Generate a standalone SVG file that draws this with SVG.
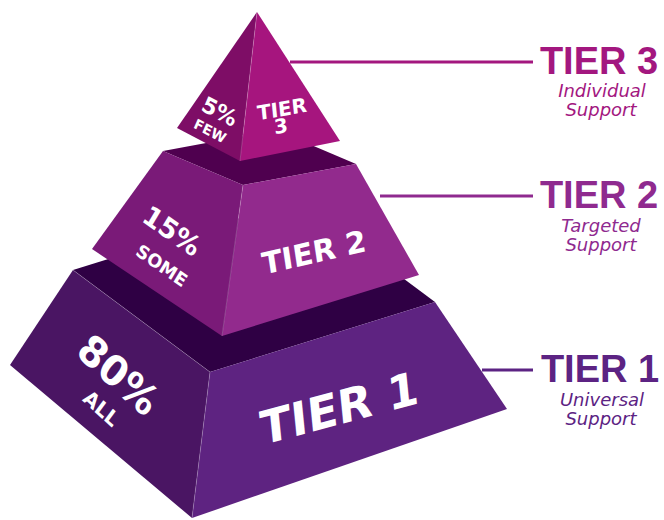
<svg xmlns="http://www.w3.org/2000/svg" width="664" height="520" viewBox="0 0 664 520">
<style>
.ft{font-family:"DejaVu Sans","Liberation Sans",sans-serif;font-weight:bold;fill:#ffffff;text-anchor:middle}
.ttl{font-family:"Liberation Sans",Arial,sans-serif;font-weight:bold;font-size:38px;text-anchor:middle}
.sub{font-family:"DejaVu Sans","Liberation Sans",sans-serif;font-style:italic;font-size:18px;text-anchor:middle}
.ridge{stroke:#ffffff;stroke-opacity:0.25;stroke-width:0.8;fill:none}
.conn{stroke-width:3;fill:none}
</style>
<rect width="664" height="520" fill="#ffffff"/>
<g id="tier1-block">
  <polygon points="73,270 298,200 435,302 210,372" fill="#2f0044"/>
  <polygon points="73,270 210,372 192,518 10,365" fill="#4a1563"/>
  <polygon points="210,372 435,302 507,409 192,518" fill="#5e2381"/>
  <line class="ridge" x1="210" y1="372" x2="192" y2="518"/>
  <line class="ridge" x1="73" y1="270" x2="210" y2="372"/>
  <text class="ft" font-size="40" transform="matrix(0.743 0.669 -0.6 0.8 110 386)">80%</text>
  <text class="ft" font-size="20" transform="matrix(0.743 0.669 -0.6 0.8 97 414)">ALL</text>
  <text class="ft" font-size="46" transform="matrix(0.966 -0.259 0.1 0.995 341 424)">TIER 1</text>
</g>
<g id="tier2-block">
  <polygon points="163,151 276,130 356,164 243,185" fill="#4f004f"/>
  <polygon points="163,151 243,185 222,336 92,249" fill="#7a1a78"/>
  <polygon points="243,185 356,164 419,275 222,336" fill="#922a8d"/>
  <line class="ridge" x1="243" y1="185" x2="222" y2="336"/>
  <text class="ft" font-size="27" transform="matrix(0.819 0.574 -0.52 0.854 167 239)">15%</text>
  <text class="ft" font-size="18" transform="matrix(0.819 0.574 -0.52 0.854 158.5 271)">SOME</text>
  <text class="ft" font-size="30" transform="matrix(0.974 -0.225 0.15 0.989 315.5 262.7)">TIER 2</text>
</g>
<g id="tier3-block">
  <polygon points="257,12 177,128 240,161" fill="#7e0d66"/>
  <polygon points="257,12 240,161 340,141" fill="#a6157e"/>
  <line class="ridge" x1="257" y1="12" x2="240" y2="161"/>
  <text class="ft" font-size="22" transform="matrix(0.887 0.462 -0.4 0.917 216.6 118.5)">5%</text>
  <text class="ft" font-size="14" transform="matrix(0.887 0.462 -0.4 0.917 208 135.6)">FEW</text>
  <text class="ft" font-size="20" transform="matrix(0.985 -0.174 0.1 0.995 282.7 116)">TIER</text>
  <text class="ft" font-size="20" transform="matrix(0.985 -0.174 0.1 0.995 281.7 133)">3</text>
</g>
<g id="connectors">
  <line class="conn" x1="290" y1="62" x2="533" y2="62" stroke="#a3177f"/>
  <line class="conn" x1="380" y1="196" x2="533" y2="196" stroke="#8f2a8f"/>
  <line class="conn" x1="482" y1="370" x2="533" y2="370" stroke="#5c2383"/>
</g>
<g id="label-tier3" fill="#a3177f">
  <text class="ttl" x="599" y="74">TIER 3</text>
  <text class="sub" x="602" y="97">Individual</text>
  <text class="sub" x="601" y="116">Support</text>
</g>
<g id="label-tier2" fill="#8f2a8f">
  <text class="ttl" x="599" y="208">TIER 2</text>
  <text class="sub" x="601" y="232">Targeted</text>
  <text class="sub" x="601" y="251">Support</text>
</g>
<g id="label-tier1" fill="#5c2383">
  <text class="ttl" x="600" y="382">TIER 1</text>
  <text class="sub" x="602" y="406">Universal</text>
  <text class="sub" x="601" y="425">Support</text>
</g>
</svg>
